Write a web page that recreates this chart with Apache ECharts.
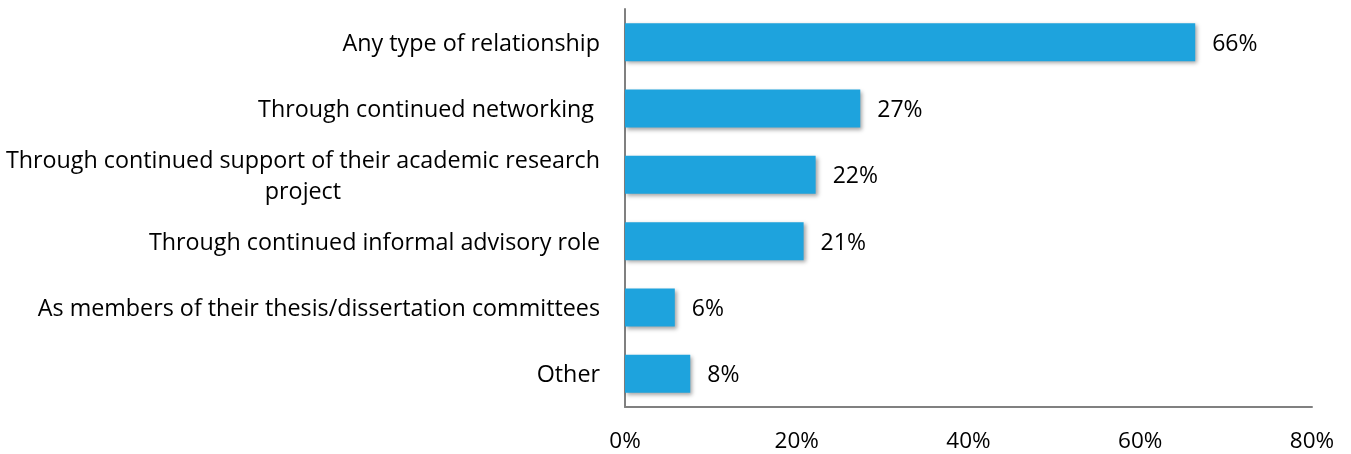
<!DOCTYPE html>
<html><head><meta charset="utf-8">
<script src="https://cdn.jsdelivr.net/npm/echarts@6/dist/echarts.min.js"></script>
<style>html,body{margin:0;padding:0;background:#fff}#c{width:1351px;height:454px}</style>
</head><body><div id="c"></div>
<script>
const categories = [
  "Any type of relationship",
  "Through continued networking ",
  "Through continued support of their academic research project",
  "Through continued informal advisory role",
  "As members of their thesis/dissertation committees",
  "Other"
];
const values = [66.4, 27.4, 22.2, 20.8, 5.8, 7.6];
const tickValues = [0, 20, 40, 60, 80];

const FONT = '"Open Sans"';
const CAT_SIZE = 23.3;
const chart = echarts.init(document.getElementById('c'), null, {renderer: 'canvas'});
chart.setOption({
  animation: false,
  grid: {left: 625, right: 39, top: 9, bottom: 47, containLabel: false},
  xAxis: {
    type: 'value', min: tickValues[0], max: tickValues[tickValues.length - 1], interval: 20,
    axisLine: {show: true, lineStyle: {color: '#808080', width: 2}},
    axisTick: {show: false},
    splitLine: {show: false},
    axisLabel: {formatter: v => v + '%', margin: 23, color: '#000', fontFamily: FONT, fontSize: 22.5}
  },
  yAxis: {
    type: 'category', inverse: true, data: categories,
    axisLine: {show: true, lineStyle: {color: '#808080', width: 2}},
    axisTick: {show: false},
    axisLabel: {
      margin: 25, color: '#000', fontFamily: FONT, fontSize: CAT_SIZE, lineHeight: 31,
      padding: [4, 0, 0, 0],
      formatter: function (v) {
        if (v.indexOf('academic research project') >= 0) {
          return '{c|Through continued support of their academic research}\n{c|project}';
        }
        return v;
      },
      rich: {c: {align: 'center', fontFamily: FONT, fontSize: CAT_SIZE, lineHeight: 31, color: '#000'}}
    }
  },
  series: [{
    type: 'bar', data: values, barWidth: 38,
    itemStyle: {color: '#1ea3dd', shadowColor: 'rgba(0,0,0,0.35)', shadowBlur: 4, shadowOffsetX: 2, shadowOffsetY: 2},
    label: {show: true, position: 'right', distance: 17, offset: [0, 2], color: '#000', fontFamily: FONT, fontSize: 23,
      formatter: p => Math.round(p.value) + '%'}
  }]
});
</script></body></html>
